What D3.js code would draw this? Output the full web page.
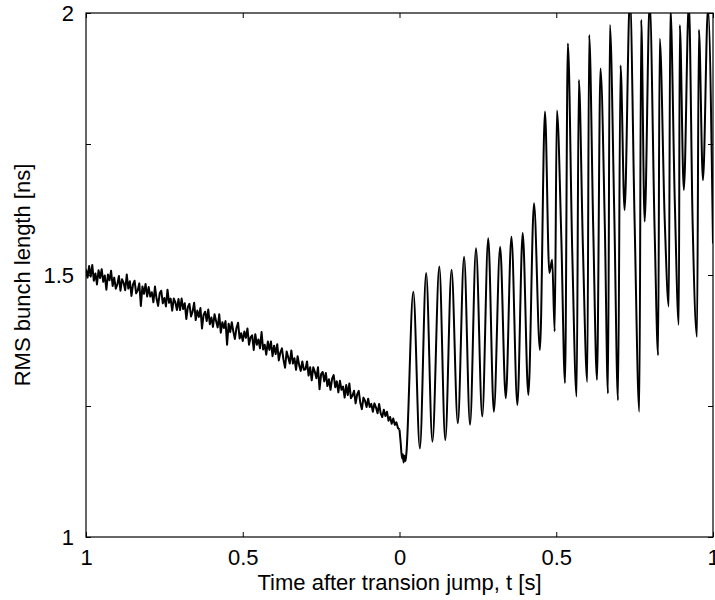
<!DOCTYPE html>
<html><head><meta charset="utf-8">
<script src="https://cdn.jsdelivr.net/npm/d3@7/dist/d3.min.js"></script>
<style>
body{margin:0;background:#fff}
text{font-family:"Liberation Sans",Arial,Helvetica,sans-serif;fill:#000}
</style>
</head><body><svg id="c" width="715" height="600"></svg>
<script>
// ---- data ----
const xTickValues = [-1, -0.5, 0, 0.5, 1];
const xTickLabels = ["1", "0.5", "0", "0.5", "1"];
const yTickValues = [1, 1.25, 1.5, 1.75, 2];
const yTickLabels = ["1", "", "1.5", "", "2"];
const xLabel = "Time after transion jump, t [s]";
const yLabel = "RMS bunch length [ns]";

// noisy part before the jump, sampled every 0.005 s from t = -1
const noisyStart = -1, noisyStep = 0.005;
const noisyValues = [
1.511,1.495,1.517,1.497,1.519,1.489,1.503,1.482,1.509,1.494,1.511,1.487,1.499,1.472,1.501,1.490,1.508,1.479,1.495,1.474,
1.482,1.498,1.470,1.492,1.485,1.471,1.501,1.474,1.488,1.460,1.482,1.489,1.465,1.471,1.484,1.441,1.478,1.464,1.483,1.459,
1.477,1.459,1.467,1.448,1.478,1.455,1.441,1.465,1.470,1.446,1.456,1.440,1.472,1.447,1.455,1.432,1.455,1.448,1.433,1.454,
1.433,1.455,1.435,1.446,1.416,1.439,1.445,1.421,1.430,1.447,1.414,1.432,1.420,1.437,1.398,1.424,1.430,1.412,1.434,1.406,
1.419,1.401,1.425,1.412,1.400,1.425,1.390,1.410,1.399,1.412,1.367,1.407,1.391,1.410,1.392,1.378,1.399,1.409,1.379,1.389,
1.374,1.392,1.380,1.398,1.367,1.381,1.385,1.357,1.387,1.367,1.377,1.360,1.391,1.358,1.367,1.348,1.373,1.357,1.373,1.345,
1.365,1.349,1.368,1.337,1.352,1.360,1.338,1.323,1.354,1.343,1.331,1.356,1.331,1.341,1.319,1.345,1.328,1.317,1.335,1.319,
1.320,1.335,1.308,1.324,1.299,1.324,1.315,1.303,1.324,1.282,1.311,1.315,1.297,1.313,1.288,1.301,1.281,1.302,1.309,1.286,
1.297,1.276,1.298,1.281,1.287,1.266,1.290,1.271,1.293,1.265,1.270,1.279,1.255,1.272,1.279,1.256,1.244,1.266,1.260,1.248,
1.264,1.248,1.254,1.239,1.255,1.247,1.236,1.254,1.236,1.229,1.243,1.231,1.239,1.222,1.229,1.216,1.226,1.214,1.219,1.208
];

// dip at the jump and the oscillations afterwards (peaks / troughs / shoulders)
const oscTimes = [
0.000,0.004,0.008,0.011,0.013,0.016,0.019,0.022,
0.044,0.065,0.085,0.105,0.127,0.146,0.166,0.186,0.206,0.225,0.244,0.264,
0.283,0.301,0.321,0.339,0.357,0.376,0.393,0.411,0.429,0.448,0.464,0.478,
0.487,0.495,0.502,0.516,0.528,0.537,0.551,0.565,0.572,0.585,0.599,0.605,
0.618,0.630,0.641,0.655,0.665,0.671,0.685,0.697,0.705,0.718,0.735,0.750,
0.765,0.771,0.782,0.798,0.814,0.825,0.830,0.846,0.859,0.864,0.878,0.891,
0.894,0.907,0.923,0.935,0.949,0.955,0.968,0.984,1.000
];
const oscValues = [
1.205,1.178,1.150,1.158,1.142,1.155,1.145,1.160,
1.468,1.169,1.504,1.182,1.516,1.185,1.510,1.217,1.535,1.214,1.551,1.230,
1.570,1.239,1.554,1.265,1.573,1.252,1.580,1.271,1.637,1.357,1.812,1.504,
1.529,1.392,1.814,1.575,1.294,1.942,1.545,1.268,1.872,1.554,1.296,1.958,
1.588,1.300,1.894,1.592,1.274,1.977,1.620,1.261,1.900,1.624,2.030,1.600,
1.239,1.987,1.602,2.020,1.580,1.347,1.951,1.605,1.440,2.010,1.643,1.405,
1.977,1.662,2.020,1.600,1.382,1.968,1.681,2.010,1.560
];

// ---- build series ----
const noisyPart = noisyValues.map((v, i) => ({t: noisyStart + i * noisyStep, v}));
const oscPart = oscTimes.map((t, i) => ({t, v: oscValues[i]}));

// ---- layout ----
const L = 86, R = 713, T = 13, B = 537;
const svg = d3.select("#c");

const x = d3.scaleLinear().domain([-1, 1]).range([L, R]);
const y = d3.scaleLinear().domain([1, 2]).range([B, T]);

svg.append("defs").append("clipPath").attr("id", "clip")
  .append("rect").attr("x", L).attr("y", T).attr("width", R - L).attr("height", B - T);

const lineNoisy = d3.line().x(d => x(d.t)).y(d => y(d.v)).curve(d3.curveLinear);
const lineOsc = d3.line().x(d => x(d.t)).y(d => y(d.v)).curve(d3.curveMonotoneX);
const plot = svg.append("g").attr("clip-path", "url(#clip)");
plot.append("path").datum(noisyPart.concat([oscPart[0]]))
  .attr("d", lineNoisy)
  .attr("fill", "none").attr("stroke", "#000")
  .attr("stroke-width", 2).attr("stroke-linejoin", "round");
plot.append("path").datum(oscPart)
  .attr("d", lineOsc)
  .attr("fill", "none").attr("stroke", "#000")
  .attr("stroke-width", 2).attr("stroke-linejoin", "round");

const FS = 22;
function styleAxis(g) {
  g.select(".domain").remove();
  g.selectAll(".tick line").attr("stroke", "#000").attr("stroke-width", 1);
  g.selectAll("text").attr("font-size", FS).style("font-family", '"Liberation Sans", Arial, sans-serif');
}

// bottom
svg.append("g").attr("transform", `translate(0,${B})`)
  .call(d3.axisBottom(x).tickValues(xTickValues).tickSize(-5).tickPadding(12)
        .tickFormat((d, i) => xTickLabels[i]))
  .call(styleAxis);
// top (no labels)
svg.append("g").attr("transform", `translate(0,${T})`)
  .call(d3.axisTop(x).tickValues(xTickValues).tickSize(-5).tickFormat(""))
  .call(styleAxis);
// left
svg.append("g").attr("transform", `translate(${L},0)`)
  .call(d3.axisLeft(y).tickValues(yTickValues).tickSize(-5).tickPadding(12)
        .tickFormat((d, i) => yTickLabels[i]))
  .call(styleAxis);
// right (no labels)
svg.append("g").attr("transform", `translate(${R},0)`)
  .call(d3.axisRight(y).tickValues(yTickValues).tickSize(-5).tickFormat(""))
  .call(styleAxis);

// frame
svg.append("rect").attr("x", L).attr("y", T).attr("width", R - L).attr("height", B - T)
  .attr("fill", "none").attr("stroke", "#000").attr("stroke-width", 1.2);

// axis titles
svg.append("text").attr("x", (L + R) / 2).attr("y", 590)
  .attr("text-anchor", "middle").attr("font-size", FS).text(xLabel);
svg.append("text").attr("transform", `translate(30,${(T + B) / 2}) rotate(-90)`)
  .attr("text-anchor", "middle").attr("font-size", FS).text(yLabel);
</script>
</body></html>
